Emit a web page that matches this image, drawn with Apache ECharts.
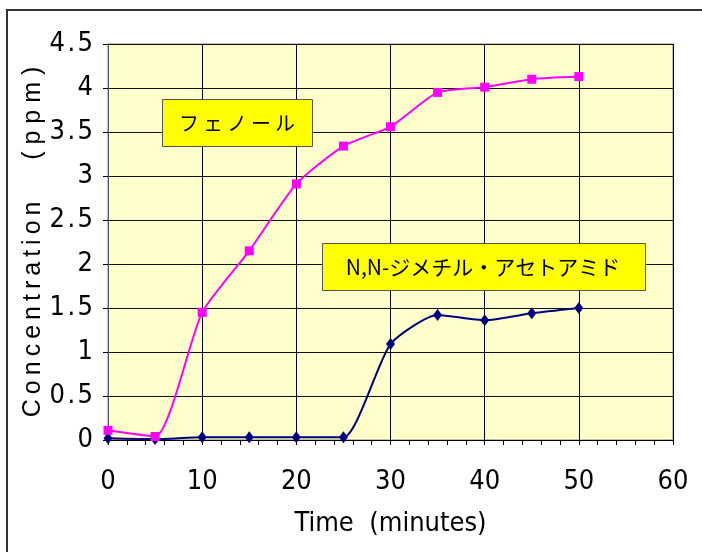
<!DOCTYPE html>
<html><head><meta charset="utf-8">
<script src="https://cdn.jsdelivr.net/npm/echarts@6/dist/echarts.min.js"></script>
<style>html,body{margin:0;padding:0;background:#fff}#c{width:702px;height:552px}</style>
</head><body><div id="c"></div>
<script>
const times = [0, 5, 10, 15, 20, 25, 30, 35, 40, 45, 50];
const phenol = [0.11, 0.04, 1.45, 2.15, 2.91, 3.34, 3.56, 3.95, 4.01, 4.10, 4.13];
const dmac = [0.02, 0.01, 0.03, 0.03, 0.03, 0.03, 1.09, 1.42, 1.36, 1.44, 1.50];
const phenolLabel = 'フ\u2009ェ\u2009ノ\u2009ー\u2009ル';
const dmacLabel = 'N,N-ジメチル・アセトアミド';
const xName = 'Time  (minutes)';
const yName = 'C\u2009o\u2009n\u2009c\u2009e\u2009n\u2009t\u2009r\u2009a\u2009t\u2009i\u2009o\u2009n      ( p p m )';

const narrow = "'DejaVu Sans Condensed', sans-serif";
const chart = echarts.init(document.getElementById('c'), null, {renderer: 'canvas'});
chart.setOption({
  animation: false,
  backgroundColor: '#ffffff',
  grid: {left: 108, top: 44, width: 565, height: 396, show: true,
         backgroundColor: '#FFFFCC', borderColor: '#808080', borderWidth: 1},
  xAxis: {
    type: 'value', min: 0, max: 60, interval: 10,
    axisLine: {show: true, lineStyle: {color: '#000', width: 1}},
    axisTick: {show: true, inside: false, length: 5, lineStyle: {color: '#000'}},
    minorTick: {show: true, splitNumber: 5, length: 5, lineStyle: {color: '#000'}},
    splitLine: {show: true, lineStyle: {color: '#000', width: 1}},
    axisLabel: {color: '#000', fontFamily: narrow, fontSize: 27, margin: 28},
    name: xName, nameLocation: 'middle', nameGap: 70, nameMoveOverlap: false,
    nameTextStyle: {color: '#000', fontFamily: narrow, fontSize: 27}
  },
  yAxis: {
    type: 'value', min: 0, max: 4.5, interval: 0.5,
    axisLine: {show: true, lineStyle: {color: '#555', width: 1}},
    axisTick: {show: true, inside: false, length: 5, lineStyle: {color: '#000'}},
    splitLine: {show: true, lineStyle: {color: '#111', width: 1}},
    axisLabel: {color: '#000', fontFamily: narrow, fontSize: 27, margin: 15,
      formatter: v => String(v).replace('.', '\u200A.\u200A')},
    name: yName, nameLocation: 'middle', nameGap: 62, nameMoveOverlap: false,
    nameTextStyle: {color: '#000', fontFamily: "'Liberation Sans', Arial, sans-serif", fontSize: 25}
  },
  series: [
    {type: 'line', name: 'dmac', data: times.map((t, i) => [t, dmac[i]]), smooth: 0.2,
     symbol: 'diamond', symbolSize: [9, 12], showAllSymbol: true,
     lineStyle: {color: '#000080', width: 2}, itemStyle: {color: '#000080'}, z: 3},
    {type: 'line', name: 'phenol', data: times.map((t, i) => [t, phenol[i]]), smooth: 0.2,
     symbol: 'rect', symbolSize: 9, showAllSymbol: true,
     lineStyle: {color: '#FF00FF', width: 2}, itemStyle: {color: '#FF00FF'}, z: 4}
  ],
  graphic: [
    {type: 'rect', shape: {x: 7, y: 10, width: 800, height: 600}, silent: true,
     style: {fill: 'none', stroke: '#333', lineWidth: 2}, z: 10},
    {type: 'rect', shape: {x: 162.5, y: 99.5, width: 150, height: 47},
     style: {fill: '#FFFF00', stroke: '#555', lineWidth: 1}, z: 20},
    {type: 'text', x: 237, y: 123, z: 21,
     style: {text: phenolLabel, fill: '#000', font: "20px 'Noto Sans CJK JP'", align: 'center', verticalAlign: 'middle'}},
    {type: 'rect', shape: {x: 322.5, y: 243.5, width: 323, height: 47},
     style: {fill: '#FFFF00', stroke: '#555', lineWidth: 1}, z: 20},
    {type: 'text', x: 483, y: 267, z: 21,
     style: {text: dmacLabel, fill: '#000', font: "21px 'Noto Sans CJK JP'", align: 'center', verticalAlign: 'middle'}}
  ]
});
</script></body></html>
